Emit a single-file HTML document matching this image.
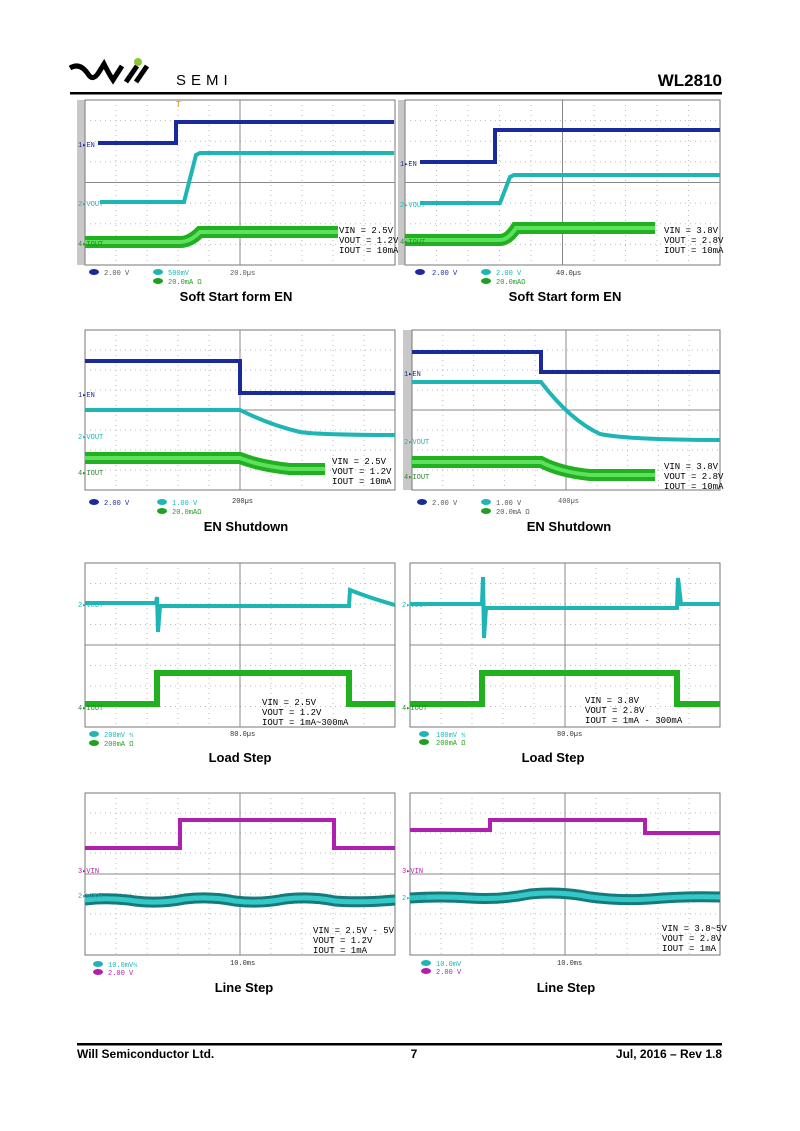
<!DOCTYPE html>
<html><head><meta charset="utf-8"><style>
html,body{margin:0;padding:0;background:#fff}
svg{display:block}
text{font-family:"Liberation Sans",sans-serif}
.cap{font-size:13px;font-weight:bold;text-anchor:middle}
.g{stroke:#bbb;stroke-width:1;stroke-dasharray:1 4}
.gc{stroke:#888;stroke-width:1}
.fr{fill:#fff;stroke:#777;stroke-width:1}
.an{font-size:9px;font-family:"Liberation Mono",monospace}
.sm{font-size:7px;font-family:"Liberation Mono",monospace}
</style></head><body>
<svg width="800" height="1131" viewBox="0 0 800 1131" xmlns="http://www.w3.org/2000/svg">
<!-- header -->
<path d="M70 68 Q80 62 88 74 Q93 82 99 72 L104 64 Q109 74 113 80 L122 66" stroke="#000" stroke-width="5" fill="none"/>
<path d="M126 82 L137 66 M136 82 L147 66" stroke="#000" stroke-width="5" fill="none"/>
<circle cx="138" cy="62" r="4" fill="#8ac832"/>
<text x="176" y="85" style="font-size:15px;letter-spacing:5px">SEMI</text>
<text x="722" y="86" style="font-size:17px;font-weight:bold;text-anchor:end">WL2810</text>
<rect x="70" y="92" width="652" height="2.5" fill="#000"/>

<!-- Panel A -->
<rect x="77" y="100" width="8" height="165" fill="#c8c8c8"/>
<rect x="85" y="100" width="310" height="165" class="fr"/>
<path class="g" d="M116 100V265M147 100V265M178 100V265M209 100V265M271 100V265M302 100V265M333 100V265M364 100V265M85 120.6H395M85 141.2H395M85 161.9H395M85 203.1H395M85 223.8H395M85 244.4H395"/>
<path class="gc" d="M240 100V265M85 182.5H395"/>
<path d="M98 143H176V122H394" stroke="#1a2a9a" stroke-width="4" fill="none"/>
<path d="M100 202H184L196 155L200 153H394" stroke="#1fb5b5" stroke-width="4" fill="none"/>
<path d="M85 242H180Q190 242 200 232H338" stroke="#20b020" stroke-width="12" fill="none"/>
<path d="M85 242H180Q190 242 200 232H338" stroke="#5ee05e" stroke-width="4" fill="none"/>
<text x="176" y="107" style="font-size:8px;fill:#e08a00">T</text>
<text x="78" y="147" class="sm" fill="#1a2a9a">1▸EN</text>
<text x="78" y="206" class="sm" fill="#1fb5b5">2▸VOUT</text>
<text x="78" y="246" class="sm" fill="#2a8a2a">4▸IOUT</text>
<text x="339" y="233" class="an">VIN = 2.5V</text>
<text x="339" y="243" class="an">VOUT = 1.2V</text>
<text x="339" y="253" class="an">IOUT = 10mA</text>
<ellipse cx="94" cy="272" rx="5" ry="3" fill="#1a2a9a"/><text x="104" y="275" class="sm" fill="#555">2.00 V</text>
<ellipse cx="158" cy="272" rx="5" ry="3" fill="#1fb5b5"/><text x="168" y="275" class="sm" fill="#1fb5b5">500mV</text>
<ellipse cx="158" cy="281" rx="5" ry="3" fill="#20a020"/><text x="168" y="284" class="sm" fill="#20a020">20.0mA Ω</text>
<text x="230" y="275" class="sm" fill="#555">20.0µs</text>
<text x="236" y="301" class="cap">Soft Start form EN</text>

<!-- Panel B -->
<rect x="398" y="100" width="7" height="165" fill="#c8c8c8"/>
<rect x="405" y="100" width="315" height="165" class="fr"/>
<path class="g" d="M436.5 100V265M468 100V265M499.5 100V265M531 100V265M594 100V265M625.5 100V265M657 100V265M688.5 100V265M405 120.6H720M405 141.2H720M405 161.9H720M405 203.1H720M405 223.8H720M405 244.4H720"/>
<path class="gc" d="M562.5 100V265M405 182.5H720"/>
<path d="M420 162H495V130H720" stroke="#1a2a9a" stroke-width="4" fill="none"/>
<path d="M420 203H500L510 177L514 175H720" stroke="#1fb5b5" stroke-width="4" fill="none"/>
<path d="M405 240H500Q508 240 516 228H655" stroke="#20b020" stroke-width="12" fill="none"/>
<path d="M405 240H500Q508 240 516 228H655" stroke="#5ee05e" stroke-width="4" fill="none"/>
<text x="400" y="166" class="sm" fill="#1a2a9a">1▸EN</text>
<text x="400" y="207" class="sm" fill="#1fb5b5">2▸VOUT</text>
<text x="400" y="244" class="sm" fill="#2a8a2a">4▸IOUT</text>
<text x="664" y="233" class="an">VIN = 3.8V</text>
<text x="664" y="243" class="an">VOUT = 2.8V</text>
<text x="664" y="253" class="an">IOUT = 10mA</text>
<ellipse cx="420" cy="272" rx="5" ry="3" fill="#1a2a9a"/><text x="432" y="275" class="sm" fill="#1a2a9a">2.00 V</text>
<ellipse cx="486" cy="272" rx="5" ry="3" fill="#1fb5b5"/><text x="496" y="275" class="sm" fill="#1fb5b5">2.00 V</text>
<ellipse cx="486" cy="281" rx="5" ry="3" fill="#20a020"/><text x="496" y="284" class="sm" fill="#20a020">20.0mAΩ</text>
<text x="556" y="275" class="sm" fill="#333">40.0µs</text>
<text x="565" y="301" class="cap">Soft Start form EN</text>

<!-- Panel C -->
<rect x="85" y="330" width="310" height="160" class="fr"/>
<path class="g" d="M116 330V490M147 330V490M178 330V490M209 330V490M271 330V490M302 330V490M333 330V490M364 330V490M85 350H395M85 370H395M85 390H395M85 430H395M85 450H395M85 470H395"/>
<path class="gc" d="M240 330V490M85 410H395"/>
<path d="M85 361H240V393H395" stroke="#1a2a9a" stroke-width="4" fill="none"/>
<path d="M85 410H240Q270 425 300 432Q320 435 395 435" stroke="#1fb5b5" stroke-width="4" fill="none"/>
<path d="M85 458H240Q260 466 290 469H325" stroke="#20b020" stroke-width="12" fill="none"/>
<path d="M85 458H240Q260 466 290 469H325" stroke="#5ee05e" stroke-width="4" fill="none"/>
<text x="78" y="397" class="sm" fill="#1a2a9a">1▸EN</text>
<text x="78" y="439" class="sm" fill="#1fb5b5">2▸VOUT</text>
<text x="78" y="475" class="sm" fill="#2a8a2a">4▸IOUT</text>
<text x="332" y="464" class="an">VIN = 2.5V</text>
<text x="332" y="474" class="an">VOUT = 1.2V</text>
<text x="332" y="484" class="an">IOUT = 10mA</text>
<ellipse cx="94" cy="502" rx="5" ry="3" fill="#1a2a9a"/><text x="104" y="505" class="sm" fill="#1a2a9a">2.00 V</text>
<ellipse cx="162" cy="502" rx="5" ry="3" fill="#1fb5b5"/><text x="172" y="505" class="sm" fill="#1fb5b5">1.00 V</text>
<ellipse cx="162" cy="511" rx="5" ry="3" fill="#20a020"/><text x="172" y="514" class="sm" fill="#20a020">20.0mAΩ</text>
<text x="232" y="503" class="sm" fill="#333">200µs</text>
<text x="246" y="531" class="cap">EN Shutdown</text>

<!-- Panel D -->
<rect x="403" y="330" width="9" height="160" fill="#c8c8c8"/>
<rect x="412" y="330" width="308" height="160" class="fr"/>
<path class="g" d="M442.8 330V490M473.6 330V490M504.4 330V490M535.2 330V490M596.8 330V490M627.6 330V490M658.4 330V490M689.2 330V490M412 350H720M412 370H720M412 390H720M412 430H720M412 450H720M412 470H720"/>
<path class="gc" d="M566 330V490M412 410H720"/>
<path d="M412 352H541V372H720" stroke="#1a2a9a" stroke-width="4" fill="none"/>
<path d="M412 382H541Q570 420 600 434Q630 440 720 440" stroke="#1fb5b5" stroke-width="4" fill="none"/>
<path d="M412 462H541Q560 472 590 475H655" stroke="#20b020" stroke-width="12" fill="none"/>
<path d="M412 462H541Q560 472 590 475H655" stroke="#5ee05e" stroke-width="4" fill="none"/>
<text x="404" y="376" class="sm" fill="#1a2a9a">1▸EN</text>
<text x="404" y="444" class="sm" fill="#1fb5b5">2▸VOUT</text>
<text x="404" y="479" class="sm" fill="#2a8a2a">4▸IOUT</text>
<text x="664" y="469" class="an">VIN = 3.8V</text>
<text x="664" y="479" class="an">VOUT = 2.8V</text>
<text x="664" y="489" class="an">IOUT = 10mA</text>
<ellipse cx="422" cy="502" rx="5" ry="3" fill="#1a2a9a"/><text x="432" y="505" class="sm" fill="#555">2.00 V</text>
<ellipse cx="486" cy="502" rx="5" ry="3" fill="#1fb5b5"/><text x="496" y="505" class="sm" fill="#555">1.00 V</text>
<ellipse cx="486" cy="511" rx="5" ry="3" fill="#20a020"/><text x="496" y="514" class="sm" fill="#555">20.0mA Ω</text>
<text x="558" y="503" class="sm" fill="#555">400µs</text>
<text x="569" y="531" class="cap">EN Shutdown</text>

<!-- Panel E -->
<rect x="85" y="563" width="310" height="164" class="fr"/>
<path class="g" d="M116 563V727M147 563V727M178 563V727M209 563V727M271 563V727M302 563V727M333 563V727M364 563V727M85 583.5H395M85 604H395M85 624.5H395M85 665.5H395M85 686H395M85 706.5H395"/>
<path class="gc" d="M240 563V727M85 645H395"/>
<path d="M85 603H156L157 597L158 632L160 606H349L350 590Q370 598 395 605" stroke="#1fb5b5" stroke-width="4" fill="none"/>
<path d="M85 704H157V673H349V704H395" stroke="#20b020" stroke-width="6" fill="none"/>
<text x="78" y="607" class="sm" fill="#1fb5b5">2▸VOUT</text>
<text x="78" y="710" class="sm" fill="#2a8a2a">4▸IOUT</text>
<text x="262" y="705" class="an">VIN = 2.5V</text>
<text x="262" y="715" class="an">VOUT = 1.2V</text>
<text x="262" y="725" class="an">IOUT = 1mA~300mA</text>
<ellipse cx="94" cy="734" rx="5" ry="3" fill="#1fb5b5"/><text x="104" y="737" class="sm" fill="#1fb5b5">200mV ⅍</text>
<ellipse cx="94" cy="743" rx="5" ry="3" fill="#20a020"/><text x="104" y="746" class="sm" fill="#20a020">200mA Ω</text>
<text x="230" y="736" class="sm" fill="#333">80.0µs</text>
<text x="240" y="762" class="cap">Load Step</text>

<!-- Panel F -->
<rect x="410" y="563" width="310" height="164" class="fr"/>
<path class="g" d="M441 563V727M472 563V727M503 563V727M534 563V727M596 563V727M627 563V727M658 563V727M689 563V727M410 583.5H720M410 604H720M410 624.5H720M410 665.5H720M410 686H720M410 706.5H720"/>
<path class="gc" d="M565 563V727M410 645H720"/>
<path d="M410 604H482L483 577L484 638L486 608H677L678 578L681 604H720" stroke="#1fb5b5" stroke-width="4" fill="none"/>
<path d="M410 704H482V673H677V704H720" stroke="#20b020" stroke-width="6" fill="none"/>
<text x="402" y="607" class="sm" fill="#1fb5b5">2▸VOUT</text>
<text x="402" y="710" class="sm" fill="#2a8a2a">4▸IOUT</text>
<text x="585" y="703" class="an">VIN = 3.8V</text>
<text x="585" y="713" class="an">VOUT = 2.8V</text>
<text x="585" y="723" class="an">IOUT = 1mA - 300mA</text>
<ellipse cx="424" cy="734" rx="5" ry="3" fill="#1fb5b5"/><text x="436" y="737" class="sm" fill="#1fb5b5">100mV ⅍</text>
<ellipse cx="424" cy="742" rx="5" ry="3" fill="#20a020"/><text x="436" y="745" class="sm" fill="#20a020">200mA Ω</text>
<text x="557" y="736" class="sm" fill="#333">80.0µs</text>
<text x="553" y="762" class="cap">Load Step</text>

<!-- Panel G -->
<rect x="85" y="793" width="310" height="162" class="fr"/>
<path class="g" d="M116 793V955M147 793V955M178 793V955M209 793V955M271 793V955M302 793V955M333 793V955M364 793V955M85 813H395M85 833H395M85 853H395M85 894H395M85 914H395M85 934H395"/>
<path class="gc" d="M240 793V955M85 874H395"/>
<path d="M85 848H180V820H334V848H395" stroke="#b020b0" stroke-width="4" fill="none"/>
<path id="wg" d="M85 900Q110 897 135 901Q160 904 185 899Q210 896 235 901Q260 904 285 899Q310 896 335 901Q360 903 395 900" stroke="#167a7a" stroke-width="11" fill="none"/>
<path d="M85 900Q110 897 135 901Q160 904 185 899Q210 896 235 901Q260 904 285 899Q310 896 335 901Q360 903 395 900" stroke="#35c8c8" stroke-width="5" fill="none"/>
<text x="78" y="873" class="sm" fill="#b020b0">3▸VIN</text>
<text x="78" y="898" class="sm" fill="#1fb5b5">2▸VOUT</text>
<text x="313" y="933" class="an">VIN = 2.5V - 5V</text>
<text x="313" y="943" class="an">VOUT = 1.2V</text>
<text x="313" y="953" class="an">IOUT = 1mA</text>
<ellipse cx="98" cy="964" rx="5" ry="3" fill="#1fb5b5"/><text x="108" y="967" class="sm" fill="#1fb5b5">10.0mV⅍</text>
<ellipse cx="98" cy="972" rx="5" ry="3" fill="#b020b0"/><text x="108" y="975" class="sm" fill="#b020b0">2.00 V</text>
<text x="230" y="965" class="sm" fill="#333">10.0ms</text>
<text x="244" y="992" class="cap">Line Step</text>

<!-- Panel H -->
<rect x="410" y="793" width="310" height="162" class="fr"/>
<path class="g" d="M441 793V955M472 793V955M503 793V955M534 793V955M596 793V955M627 793V955M658 793V955M689 793V955M410 813H720M410 833H720M410 853H720M410 894H720M410 914H720M410 934H720"/>
<path class="gc" d="M565 793V955M410 874H720"/>
<path d="M410 830H490V820H645V833H720" stroke="#b020b0" stroke-width="4" fill="none"/>
<path d="M410 898Q440 896 470 898Q500 900 530 894Q560 891 590 897Q620 901 650 899Q685 896 720 897" stroke="#167a7a" stroke-width="11" fill="none"/>
<path d="M410 898Q440 896 470 898Q500 900 530 894Q560 891 590 897Q620 901 650 899Q685 896 720 897" stroke="#35c8c8" stroke-width="5" fill="none"/>
<text x="402" y="873" class="sm" fill="#b020b0">3▸VIN</text>
<text x="402" y="900" class="sm" fill="#1fb5b5">2▸VOUT</text>
<text x="662" y="931" class="an">VIN = 3.8~5V</text>
<text x="662" y="941" class="an">VOUT = 2.8V</text>
<text x="662" y="951" class="an">IOUT = 1mA</text>
<ellipse cx="426" cy="963" rx="5" ry="3" fill="#1fb5b5"/><text x="436" y="966" class="sm" fill="#1fb5b5">10.0mV</text>
<ellipse cx="426" cy="971" rx="5" ry="3" fill="#b020b0"/><text x="436" y="974" class="sm" fill="#b020b0">2.00 V</text>
<text x="557" y="965" class="sm" fill="#333">10.0ms</text>
<text x="566" y="992" class="cap">Line Step</text>

<!-- footer -->
<rect x="77" y="1043" width="645" height="2.5" fill="#000"/>
<text x="77" y="1058" style="font-size:12px;font-weight:bold">Will Semiconductor Ltd.</text>
<text x="414" y="1058" style="font-size:12px;font-weight:bold;text-anchor:middle">7</text>
<text x="722" y="1058" style="font-size:12px;font-weight:bold;text-anchor:end">Jul, 2016 – Rev 1.8</text>
</svg>
</body></html>
